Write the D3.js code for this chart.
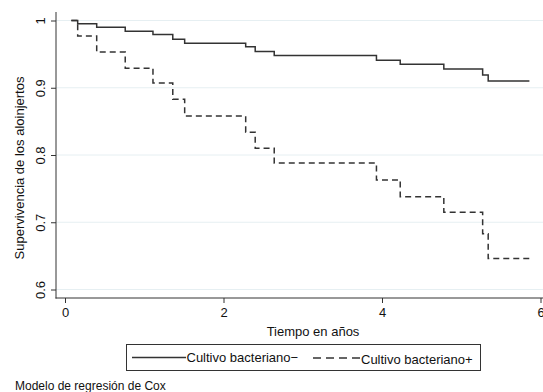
<!DOCTYPE html>
<html>
<head>
<meta charset="utf-8">
<script src="https://cdn.jsdelivr.net/npm/d3@7"></script>
<style>
  body { margin: 0; background: #fff; }
  svg { display: block; font-family: "Liberation Sans", Arial, sans-serif; }
</style>
</head>
<body>
<div id="chart"></div>
<script>
// step times (years) shared by both curves
const times = [0.08, 0.16, 0.40, 0.76, 1.11, 1.36, 1.51, 2.28, 2.40, 2.64, 3.93, 4.23, 4.78, 5.27, 5.34, 5.86];
const survNeg = [1, 0.995, 0.990, 0.984, 0.979, 0.972, 0.966, 0.961, 0.954, 0.948, 0.941, 0.935, 0.928, 0.919, 0.910, 0.910];
const survPos = [1, 0.977, 0.953, 0.929, 0.907, 0.883, 0.858, 0.834, 0.810, 0.788, 0.763, 0.738, 0.715, 0.683, 0.646, 0.646];
const xTicks = [0, 2, 4, 6];
const yTicks = [0.6, 0.7, 0.8, 0.9, 1];
const seriesNames = ['Cultivo bacteriano\u2212', 'Cultivo bacteriano+'];

const W = 543, H = 392;
const axisX = 56, axisY = 298;
const lineColor = '#333';

const svg = d3.select('#chart').append('svg')
  .attr('width', W).attr('height', H);

const x = d3.scaleLinear().domain([0, 6]).range([65, 540.5]);
const y = d3.scaleLinear().domain([0.6, 1]).range([289.5, 20.5]);

// grid lines
svg.append('g')
  .selectAll('line')
  .data(yTicks)
  .enter().append('line')
  .attr('x1', axisX).attr('x2', W)
  .attr('y1', d => y(d)).attr('y2', d => y(d))
  .attr('stroke', '#e6eff2').attr('stroke-width', 1);

// Y axis
const yAxis = svg.append('g')
  .attr('transform', `translate(${axisX},0)`)
  .call(d3.axisLeft(y).tickValues(yTicks).tickSize(5).tickFormat(d3.format('')));
yAxis.select('.domain').remove();
yAxis.append('line').attr('x1', 0).attr('x2', 0).attr('y1', 12).attr('y2', axisY + 0.5)
  .attr('stroke', lineColor);
yAxis.selectAll('.tick line').attr('stroke', lineColor);
yAxis.selectAll('.tick text')
  .attr('fill', '#111').attr('font-size', 13)
  .attr('text-anchor', 'middle')
  .attr('x', 0).attr('dy', 0)
  .attr('transform', 'translate(-11,0) rotate(-90)')
  .attr('y', 0);

// X axis
const xAxis = svg.append('g')
  .attr('transform', `translate(0,${axisY})`)
  .call(d3.axisBottom(x).tickValues(xTicks).tickSize(5).tickFormat(d3.format('d')));
xAxis.select('.domain').remove();
xAxis.append('line').attr('x1', axisX - 0.5).attr('x2', W).attr('y1', 0).attr('y2', 0)
  .attr('stroke', lineColor);
xAxis.selectAll('.tick line').attr('stroke', lineColor);
xAxis.selectAll('.tick text')
  .attr('fill', '#111').attr('font-size', 13).attr('y', 10);

// axis titles
svg.append('text')
  .attr('x', 313).attr('y', 336)
  .attr('text-anchor', 'middle').attr('font-size', 13).attr('fill', '#111')
  .text('Tiempo en años');
svg.append('text')
  .attr('transform', 'translate(24,168) rotate(-90)')
  .attr('text-anchor', 'middle').attr('font-size', 13).attr('fill', '#111')
  .text('Supervivencia de los aloinjertos');

// curves
const step = d3.line()
  .x(d => x(d[0]))
  .y(d => y(d[1]))
  .curve(d3.curveStepAfter);

svg.append('path')
  .datum(times.map((t, i) => [t, survNeg[i]]))
  .attr('fill', 'none').attr('stroke', lineColor).attr('stroke-width', 1.5)
  .attr('d', step);

svg.append('path')
  .datum(times.map((t, i) => [t, survPos[i]]))
  .attr('fill', 'none').attr('stroke', lineColor).attr('stroke-width', 1.5)
  .attr('stroke-dasharray', '6,4')
  .attr('d', step);

// legend
const legend = svg.append('g');
legend.append('rect')
  .attr('x', 126.5).attr('y', 344.5).attr('width', 354).attr('height', 26)
  .attr('fill', '#fff').attr('stroke', lineColor).attr('stroke-width', 1);
legend.append('line')
  .attr('x1', 132).attr('x2', 186).attr('y1', 357.5).attr('y2', 357.5)
  .attr('stroke', lineColor).attr('stroke-width', 1.5);
legend.append('text')
  .attr('x', 186.5).attr('y', 362).attr('font-size', 13).attr('fill', '#111')
  .text(seriesNames[0]);
legend.append('line')
  .attr('x1', 313).attr('x2', 361).attr('y1', 358).attr('y2', 358)
  .attr('stroke', lineColor).attr('stroke-width', 1.5)
  .attr('stroke-dasharray', '8,5');
legend.append('text')
  .attr('x', 361).attr('y', 363.5).attr('font-size', 13).attr('fill', '#111')
  .text(seriesNames[1]);

// note
svg.append('text')
  .attr('x', 15).attr('y', 390).attr('font-size', 12).attr('fill', '#111')
  .text('Modelo de regresión de Cox');
</script>
</body>
</html>
